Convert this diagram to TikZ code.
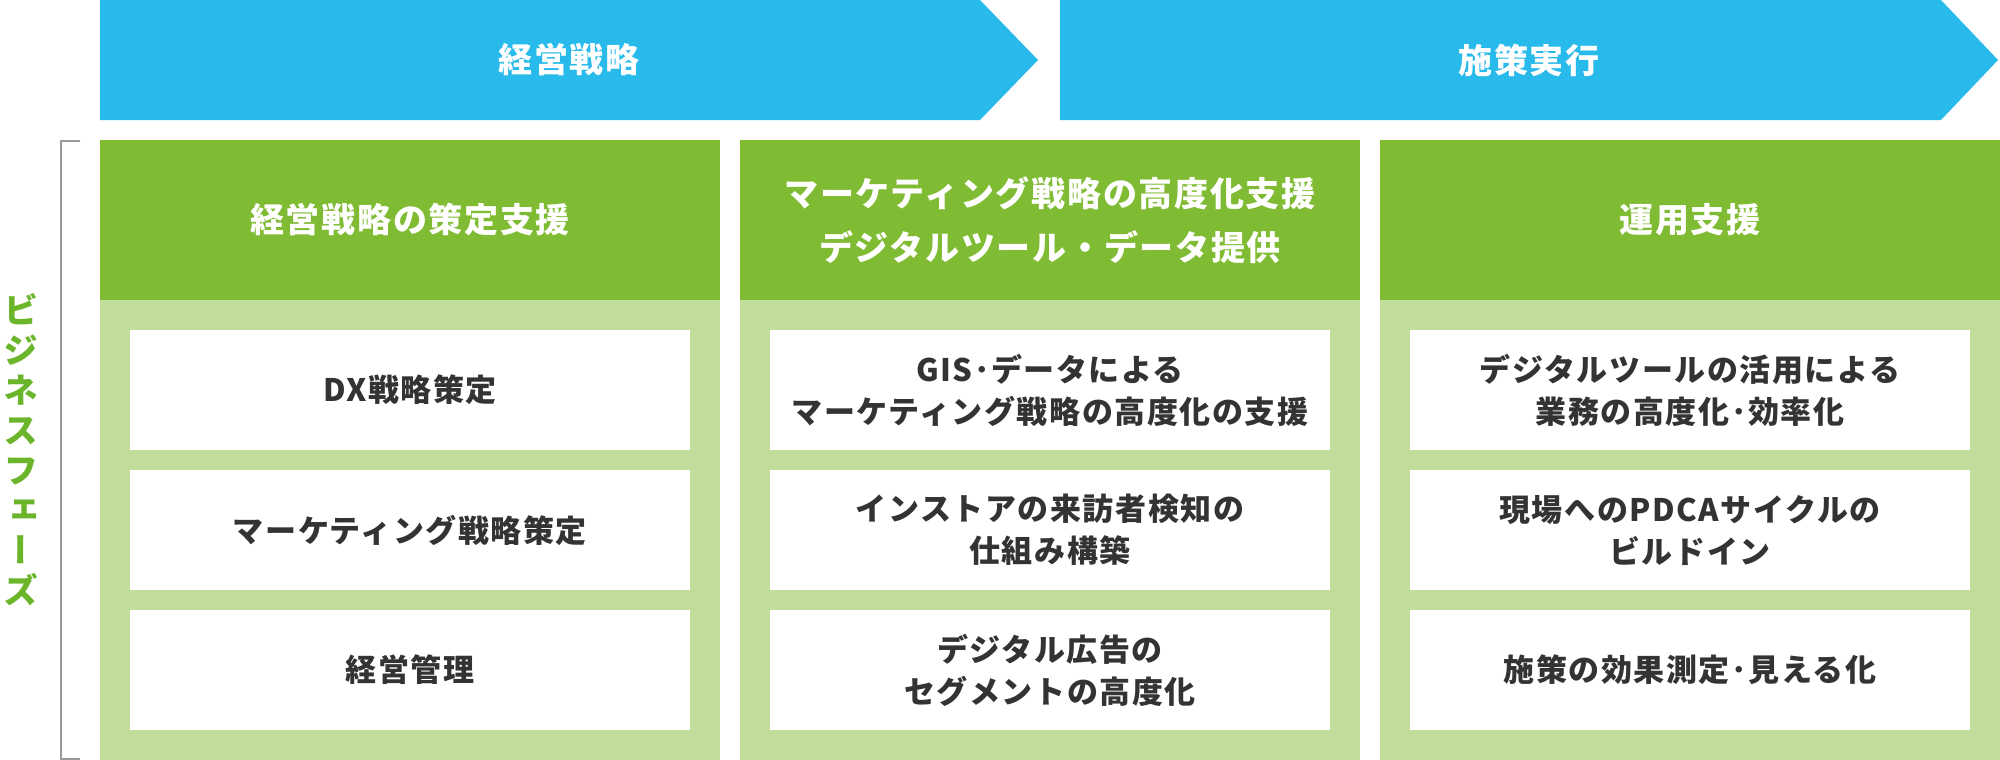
\documentclass[tikz,border=0pt]{standalone}
\usepackage{fontspec}
\setmainfont{Noto Sans CJK JP}[LetterSpace=5]
\newfontfamily\vjp[RawFeature={+vert}]{Noto Sans CJK JP}
\definecolor{arrowblue}{HTML}{29BAEC}
\definecolor{headgreen}{HTML}{80BC33}
\definecolor{bodygreen}{HTML}{C1DD9B}
\definecolor{labelgreen}{HTML}{6BB52B}
\definecolor{textgray}{HTML}{333333}
\definecolor{bracketgray}{HTML}{999999}
\begin{document}
\begin{tikzpicture}[x=1pt,y=-1pt,
  phase/.style={fill=arrowblue,draw=none},
  phasetext/.style={text=white,font=\bfseries\fontsize{34}{40}\selectfont,inner sep=0},
  head/.style={fill=headgreen,draw=none,minimum width=620,minimum height=160,inner sep=0,
    text=white,font=\bfseries\fontsize{34}{54}\selectfont,align=center},
  body/.style={fill=bodygreen,draw=none,minimum width=620,minimum height=460,inner sep=0},
  item/.style={fill=white,draw=none,minimum width=560,minimum height=120,inner sep=0,
    text=textgray,font=\bfseries\fontsize{31}{42}\selectfont,align=center},
  sidelabel/.style={text=labelgreen,font=\vjp\bfseries\fontsize{35}{40}\selectfont,align=center,inner sep=0},
  bracket/.style={draw=bracketgray,line width=2}
]
\useasboundingbox (0,0) rectangle (2000,760);
% phase arrows
\fill[phase] (100,0) -- (980,0) -- (1038,60) -- (980,120) -- (100,120) -- cycle;
\fill[phase] (1060,0) -- (1941,0) -- (1998,60) -- (1941,120) -- (1060,120) -- cycle;
\node[phasetext] (p1) at (569,60) {経営戦略};
\node[phasetext] (p2) at (1529,60) {施策実行};
% columns
\node[body] (b1) at (410,530) {};
\node[body] (b2) at (1050,530) {};
\node[body] (b3) at (1690,530) {};
\node[head] (h1) at (410,220) {経営戦略の策定支援};
\node[head] (h2) at (1050,220) {マーケティング戦略の高度化支援\\デジタルツール・データ提供};
\node[head] (h3) at (1690,220) {運用支援};
% items
\node[item] (a1) at (410,390) {DX戦略策定};
\node[item] (a2) at (410,530) {マーケティング戦略策定};
\node[item] (a3) at (410,670) {経営管理};
\node[item] (c1) at (1050,390) {GIS･データによる\\マーケティング戦略の高度化の支援};
\node[item] (c2) at (1050,530) {インストアの来訪者検知の\\仕組み構築};
\node[item] (c3) at (1050,670) {デジタル広告の\\セグメントの高度化};
\node[item] (d1) at (1690,390) {デジタルツールの活用による\\業務の高度化･効率化};
\node[item] (d2) at (1690,530) {現場へのPDCAサイクルの\\ビルドイン};
\node[item] (d3) at (1690,670) {施策の効果測定･見える化};
% side label and bracket
\coordinate (bt) at (80,141);
\coordinate (bb) at (80,759);
\draw[bracket] (bt) -- (61,141) -- (61,759) -- (bb);
\node[sidelabel] (lab) at (21,450) {ビ\\ジ\\ネ\\ス\\フ\\ェ\\ー\\ズ};
\end{tikzpicture}
\end{document}
